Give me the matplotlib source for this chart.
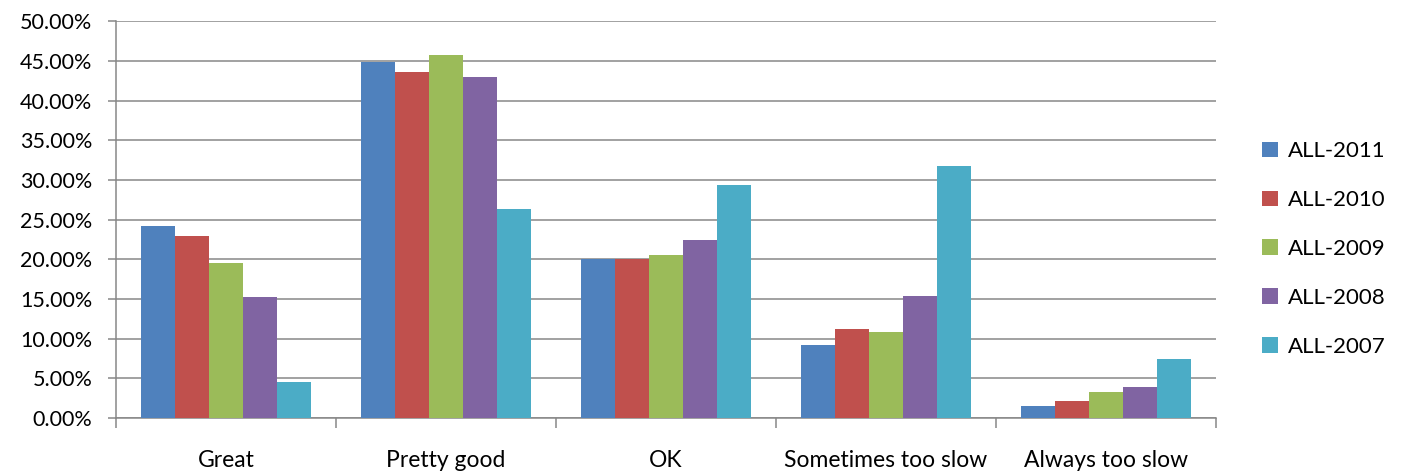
import numpy as np
from matplotlib import pyplot as plt
from matplotlib.ticker import PercentFormatter

# Values (percent)
categories = ['Great', 'Pretty good', 'OK', 'Sometimes too slow', 'Always too slow']
series_names = ['ALL-2011', 'ALL-2010', 'ALL-2009', 'ALL-2008', 'ALL-2007']
all_2011 = [24.2, 44.9, 20.0, 9.2, 1.5]
all_2010 = [22.95, 43.6, 20.05, 11.2, 2.15]
all_2009 = [19.5, 45.8, 20.55, 10.85, 3.3]
all_2008 = [15.3, 43.0, 22.45, 15.4, 3.9]
all_2007 = [4.5, 26.4, 29.4, 31.8, 7.45]
colors = ['#4F81BD', '#C0504D', '#9BBB59', '#8064A2', '#4BACC6']

plt.rcParams['font.family'] = ['Lato', 'DejaVu Sans']

fig = plt.figure(figsize=(14.02, 4.74), dpi=100)
ax = fig.add_axes([116 / 1402, 1 - 418 / 474, 1100 / 1402, (418 - 21.3) / 474])

grey = '#878787'
x = np.arange(len(categories))
bar_w = 0.154
series = [all_2011, all_2010, all_2009, all_2008, all_2007]
for i, (vals, name) in enumerate(zip(series, series_names)):
    ax.bar(x + (i - 2) * bar_w, vals, width=bar_w, color=colors[i], label=name, zorder=3)

ax.set_xlim(-0.5, len(categories) - 0.5)
ax.set_ylim(0, 50)
ax.set_yticks(np.arange(0, 50.01, 5))
ax.yaxis.set_major_formatter(PercentFormatter(decimals=2))
ax.yaxis.grid(True, color=grey, linewidth=1.1, zorder=0)

# category labels on major ticks, boundaries on minor ticks
ax.set_xticks(x)
ax.set_xticklabels(categories)
ax.set_xticks(np.arange(-0.5, len(categories), 1), minor=True)
ax.tick_params(axis='x', which='major', length=0, pad=23, labelsize=16.5)
ax.tick_params(axis='x', which='minor', length=7, color=grey, width=1.1)
ax.tick_params(axis='y', length=6, color=grey, width=1.1, pad=11, labelsize=15.5)

for s in ['top', 'right']:
    ax.spines[s].set_visible(False)
for s in ['left', 'bottom']:
    ax.spines[s].set_color(grey)
    ax.spines[s].set_linewidth(1.1)

fig.legend(loc='center left', bbox_to_anchor=(1242 / 1402, 1 - 249 / 474),
           frameon=False, fontsize=16, handlelength=0.7, handleheight=0.7,
           labelspacing=1.3, handletextpad=0.45)

plt.savefig('out.png', dpi=100)
